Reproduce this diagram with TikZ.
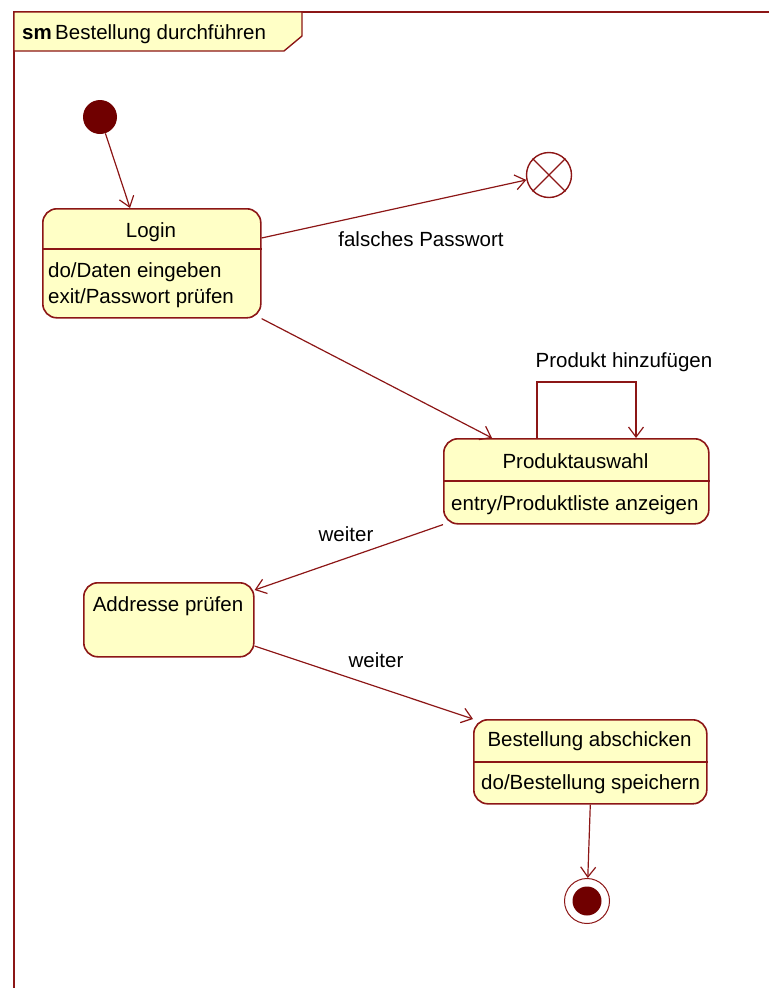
\documentclass[tikz,border=0pt]{standalone}
\usepackage{fontspec}
\setmainfont{Liberation Sans}
\usetikzlibrary{arrows.meta,calc}
\definecolor{umlline}{RGB}{140,22,22}
\definecolor{umlfill}{RGB}{255,255,198}
\definecolor{umldot}{RGB}{112,0,0}
\begin{document}
\begin{tikzpicture}[x=1pt,y=-1pt,
  every node/.style={font=\fontsize{20.5}{24}\selectfont},
  statebox/.style={draw=umlline, line width=1.6pt, fill=umlfill, rounded corners=14pt,
    inner sep=0pt, anchor=north west},
  divider/.style={draw=umlline, line width=1.4pt},
  trans/.style={draw=umlline, line width=1.2pt,
    -{Straight Barb[length=10pt,width=15pt,line width=1.2pt]}},
  txt/.style={inner sep=0pt, text=black},
]
\useasboundingbox (0,0) rectangle (769,988);

% diagram frame with its name tab
\draw[umlline, line width=1.6pt] (769,12) -- (14,12) -- (14,988);
\draw[umlline, line width=1.4pt, fill=umlfill] (14,12) -- (302,12) -- (302,36) -- (284,51) -- (14,51) -- cycle;
\node[txt, anchor=base west] (title) at (22,39) {\textbf{sm}\,Bestellung durchführen};

% pseudo states
\node[circle, fill=umldot, minimum size=34pt, inner sep=0pt] (init) at (100,117) {};
\node[circle, draw=umlline, line width=1.4pt, fill=white, minimum size=45pt, inner sep=0pt] (exit) at (549,175) {};
\draw[umlline, line width=1.4pt] (exit.north west) -- (exit.south east) (exit.north east) -- (exit.south west);
\node[circle, draw=umlline, line width=1pt, fill=white, minimum size=45pt, inner sep=0pt] (final) at (587,901) {};
\node[circle, fill=umldot, minimum size=29pt, inner sep=0pt] (finaldot) at (final) {};

% states
\node[statebox, minimum width=218pt, minimum height=109pt] (login) at (42,208) {};
\draw[divider] (login.west |- 0,249) -- (login.east |- 0,249);
\node[txt, anchor=base] (logint) at (151,237) {Login};
\node[txt, anchor=base west] (login1) at (48,277) {do/Daten eingeben};
\node[txt, anchor=base west] (login2) at (48,303) {exit/Passwort prüfen};

\node[statebox, minimum width=265pt, minimum height=85pt] (prod) at (443,438) {};
\draw[divider] (prod.west |- 0,481) -- (prod.east |- 0,481);
\node[txt, anchor=base] (prodt) at (575.5,468) {Produktauswahl};
\node[txt, anchor=base west] (prod1) at (451,510) {entry/Produktliste anzeigen};

\node[statebox, minimum width=170pt, minimum height=74pt] (addr) at (83,582) {};
\node[txt, anchor=base] (addrt) at (168,611) {Addresse prüfen};

\node[statebox, minimum width=233pt, minimum height=84pt] (best) at (473,719) {};
\draw[divider] (best.west |- 0,762) -- (best.east |- 0,762);
\node[txt, anchor=base] (bestt) at (589.5,746) {Bestellung abschicken};
\node[txt, anchor=base west] (best1) at (481,789) {do/Bestellung speichern};

% transitions
\draw[trans] (init) -- (login.north -| 130,0);
\draw[trans] (login.east |- 0,238) -- (exit);
\node[txt, anchor=base] (lblpw) at (421,246) {falsches Passwort};
\draw[trans] (login.south east) -- (prod.north -| 492,0);
\draw[trans] (prod.north -| 537,0) -- ++(0,-56) -| (prod.north -| 636,0);
\node[txt, anchor=base] (lblloop) at (624,367) {Produkt hinzufügen};
\draw[trans] (prod.south west) -- (addr.east |- 0,590);
\node[txt, anchor=base] (lblw1) at (346,541) {weiter};
\draw[trans] (addr.east |- 0,646) -- (best.north west);
\node[txt, anchor=base] (lblw2) at (376,667) {weiter};
\draw[trans] (best.south) -- (final);
\end{tikzpicture}
\end{document}
